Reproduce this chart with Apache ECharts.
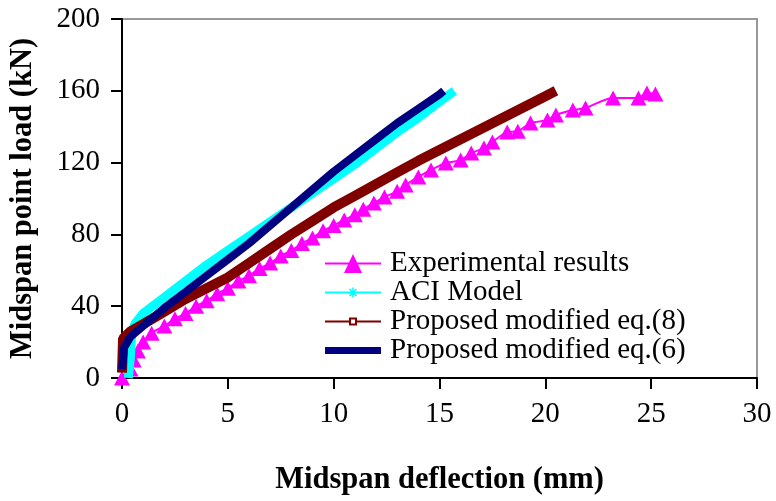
<!DOCTYPE html>
<html><head><meta charset="utf-8">
<script src="https://cdn.jsdelivr.net/npm/echarts@6/dist/echarts.min.js"></script>
<style>html,body{margin:0;padding:0;background:#fff}#c{width:776px;height:501px}</style>
</head><body><div id="c"></div>
<script>
const xTicks = [0, 5, 10, 15, 20, 25, 30];
const yTicks = [0, 40, 80, 120, 160, 200];
const seriesNames = ['Experimental results', 'ACI Model', 'Proposed modified eq.(8)', 'Proposed modified eq.(6)'];
const experimental = [[0,0],[0.4,5],[0.55,10],[0.75,15],[1.0,20],[1.4,25],[2.0,29],[2.5,33],[3.0,36],[3.5,40],[4.0,43],[4.5,47],[5.0,50],[5.5,54],[6.0,57],[6.5,61],[7.0,64],[7.5,68],[8.0,71],[8.5,75],[9.0,78],[9.5,82],[10.0,85],[10.5,88],[11.0,91],[11.4,94],[11.9,97.5],[12.4,100.8],[13.0,104],[13.4,107.5],[14.0,112],[14.6,115.9],[15.3,119.8],[16.0,121.4],[16.5,125.3],[17.1,128.1],[17.5,131.5],[18.2,137],[18.7,137.5],[19.3,142],[20.1,143.7],[20.5,146.5],[21.3,149.3],[21.9,150.4],[23.2,156],[24.4,156],[24.8,158.8],[25.2,158.2]];
const aciModel = [[0.3,0],[0.4,12],[0.45,24],[0.6,30],[1,36],[2,45],[3,54],[4,63],[5,71],[6,79],[7,87],[8,95],[9,103],[10,111],[11,119],[12,128],[13,137],[14,145],[15,154],[15.7,160]];
const eq8 = [[0,3],[0.05,22],[0.4,26],[1,30],[2,37],[3,44],[4,50],[5,56],[6,64],[7,72],[8,80],[9,87.5],[10,95],[11,101.5],[12,108],[13,114.5],[14,121],[15,127],[16,133],[17,139],[18,145],[19,151],[20,157],[20.5,160]];
const eq6 = [[0,5],[0.1,17],[0.4,23],[1,29],[2,39],[3,48],[4,57],[5,66],[6,75],[7,85],[8,95],[9,105],[10,115],[11,124],[12,133],[13,142],[14,150],[15,158],[15.2,160]];

const FONT = "'Liberation Serif','Times New Roman',serif";
const BOX = 'M0,0L0.01,0L0,0.01Z M56,19L55.99,19L56,18.99Z ';
const icons = [
  'path://' + BOX + 'M0,8.6L56,8.6L56,10.4L0,10.4Z M28,0L37,19L19,19Z',
  'path://' + BOX + 'M0,8.6L56,8.6L56,10.4L0,10.4Z M27.2,4.5L28.8,4.5L28.8,14.5L27.2,14.5Z M25.07,5.43L32.07,12.43L30.93,13.57L23.93,6.57Z M32.07,6.57L25.07,13.57L23.93,12.43L30.93,5.43Z',
  'path://' + BOX + 'M0,8.6L24,8.6L24,10.4L0,10.4Z M32,8.6L56,8.6L56,10.4L32,10.4Z M24,5.5L32,5.5L32,13.5L24,13.5Z M26,7.5L26,11.5L30,11.5L30,7.5Z',
  'path://' + BOX + 'M0,6L56,6L56,13L0,13Z'
];
const chart = echarts.init(document.getElementById('c'), null, {renderer: 'canvas'});
chart.setOption({
  animation: false,
  backgroundColor: '#fff',
  grid: {left: 122, top: 19, right: 19, bottom: 123, show: true, borderColor: '#999', borderWidth: 2, outerBoundsMode: 'none', containLabel: false},
  xAxis: {
    type: 'value', min: xTicks[0], max: xTicks[xTicks.length-1], interval: 5,
    axisLine: {onZero: false, lineStyle: {color: '#000', width: 2}},
    axisTick: {show: true, inside: false, length: 11, lineStyle: {color: '#000', width: 2}},
    splitLine: {show: false},
    axisLabel: {color: '#000', fontFamily: FONT, fontSize: 29, margin: 22},
    name: 'Midspan deflection (mm)', nameLocation: 'middle', nameGap: 87,
    nameTextStyle: {color: '#000', fontFamily: FONT, fontSize: 30.5, fontWeight: 'bold'}
  },
  yAxis: {
    type: 'value', min: yTicks[0], max: yTicks[yTicks.length-1], interval: 40,
    axisLine: {onZero: false, lineStyle: {color: '#000', width: 2}},
    axisTick: {show: true, inside: false, length: 11, lineStyle: {color: '#000', width: 2}},
    splitLine: {show: false},
    axisLabel: {color: '#000', fontFamily: FONT, fontSize: 29, margin: 22},
    name: 'Midspan point load (kN)', nameLocation: 'middle', nameGap: 83, nameRotate: 90,
    nameTextStyle: {color: '#000', fontFamily: FONT, fontSize: 30.5, fontWeight: 'bold'}
  },
  legend: {
    orient: 'vertical', left: 325, top: 249, padding: 0, itemGap: 0, itemWidth: 56, itemHeight: 19,
    itemStyle: {borderWidth: 0},
    data: seriesNames.map((n, i) => ({name: n, icon: icons[i]})),
    textStyle: {color: '#000', fontFamily: FONT, fontSize: 29, lineHeight: 27.2, padding: [0,0,0,4]}
  },
  series: [
    {name: seriesNames[0], type: 'line', data: experimental, smooth: 0.3,
     symbol: 'triangle', symbolSize: [16, 15], itemStyle: {color: '#FF00FF'},
     lineStyle: {color: '#FF00FF', width: 2}, z: 2},
    {name: seriesNames[1], type: 'line', data: aciModel, symbol: 'none',
     lineStyle: {color: '#00FFFF', width: 9}, itemStyle: {color: '#00FFFF'}, z: 3},
    {name: seriesNames[2], type: 'line', data: eq8, symbol: 'none',
     lineStyle: {color: '#800000', width: 10}, itemStyle: {color: '#800000'}, z: 4},
    {name: seriesNames[3], type: 'line', data: eq6, symbol: 'none',
     lineStyle: {color: '#000080', width: 8}, itemStyle: {color: '#000080'}, z: 5}
  ]
});
</script></body></html>
